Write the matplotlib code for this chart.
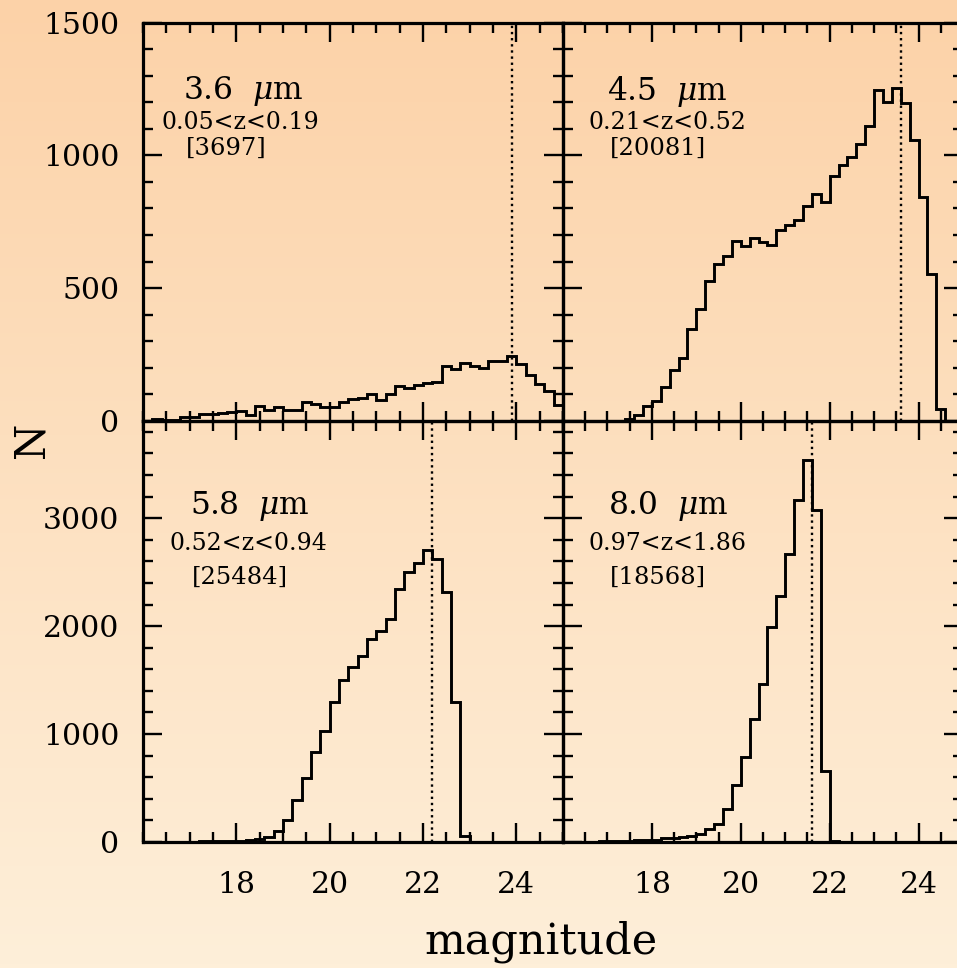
import matplotlib.pyplot as plt
from matplotlib.ticker import MultipleLocator
import numpy as np

# Output size in pixels (saved at 100 dpi)
W, H = 957, 968

plt.rcParams['font.family'] = 'DejaVu Serif'
plt.rcParams['mathtext.fontset'] = 'dejavuserif'

# 0.2 mag bins from 16 to 25, shared by all four histograms
BIN_WIDTH = 0.2
edges = np.round(np.arange(16.0, 25.0 + BIN_WIDTH / 2, BIN_WIDTH), 1)

# Counts per bin (bins start at 16.0, 16.2, ... 24.8)
counts_36 = [0, 6, 3, 3, 14, 14, 25, 25, 31, 34,
             37, 23, 58, 43, 54, 42, 42, 70, 63, 51,
             51, 73, 82, 88, 103, 79, 103, 132, 125, 137,
             142, 145, 207, 196, 220, 207, 201, 224, 226, 244,
             216, 175, 141, 114, 60]
counts_45 = [0, 0, 0, 0, 0, 0, 0, 7, 21, 55,
             74, 129, 191, 236, 345, 420, 528, 592, 622, 676,
             659, 688, 672, 664, 718, 738, 755, 811, 853, 826,
             921, 962, 995, 1041, 1109, 1246, 1202, 1252, 1196, 1059,
             842, 552, 44, 0, 0]
counts_58 = [0, 0, 0, 0, 0, 0, 5, 5, 8, 8,
             10, 20, 28, 46, 99, 201, 392, 594, 836, 1029,
             1298, 1503, 1617, 1726, 1880, 1958, 2066, 2345, 2503, 2581,
             2708, 2618, 2317, 1301, 53, 0, 0, 0, 0, 0,
             0, 0, 0, 0, 0]
counts_80 = [0, 0, 0, 4, 5, 6, 8, 12, 15, 16,
             18, 37, 40, 45, 53, 74, 124, 164, 304, 527,
             790, 1140, 1465, 1989, 2277, 2670, 3169, 3541, 3076, 660,
             10, 0, 0, 0, 0, 0, 0, 0, 0, 0,
             0, 0, 0, 0, 0]

bands = ['3.6', '4.5', '5.8', '8.0']
z_ranges = ['0.05<z<0.19', '0.21<z<0.52', '0.52<z<0.94', '0.97<z<1.86']
n_sources = ['[3697]', '[20081]', '[25484]', '[18568]']
mag_limits = [23.9, 23.6, 22.2, 21.6]
all_counts = [counts_36, counts_45, counts_58, counts_80]

mag_ticks = [18, 20, 22, 24]
top_ticks = [0, 500, 1000, 1500]
bottom_ticks = [0, 1000, 2000, 3000]

fig = plt.figure(figsize=(W / 100, H / 100), dpi=100)

# Peach gradient background behind everything
bg = fig.add_axes([0, 0, 1, 1], zorder=-10)
top_col = np.array([252, 210, 168]) / 255
bot_col = np.array([254, 239, 217]) / 255
t = np.linspace(0, 1, 256)[:, None, None]
bg.imshow(top_col * (1 - t) + bot_col * t, aspect='auto', extent=[0, 1, 0, 1])
bg.axis('off')


def px_axes(x0, y0, x1, y1):
    # axes placed by pixel box (left, top, right, bottom)
    return fig.add_axes([x0 / W, 1 - y1 / H, (x1 - x0) / W, (y1 - y0) / H])


# panel boxes in pixels; right column runs past the image edge like the original
boxes = [(143, 22.5, 563, 421), (563, 22.5, 963, 421),
         (143, 421, 563, 842), (563, 421, 963, 842)]

# label positions in axes fractions: (band, z range, count)
label_pos = [
    [(0.238, 0.828), (0.233, 0.750), (0.198, 0.684)],
    [(0.260, 0.828), (0.260, 0.750), (0.238, 0.684)],
    [(0.255, 0.797), (0.250, 0.709), (0.231, 0.629)],
    [(0.263, 0.797), (0.261, 0.709), (0.238, 0.629)],
]

for i, box in enumerate(boxes):
    ax = px_axes(*box)
    ax.set_facecolor('none')

    ax.stairs(all_counts[i], edges, color='k', lw=2.1, baseline=0)
    ax.axvline(mag_limits[i], color='k', ls=(0, (1, 1.6)), lw=1.7)

    ax.set_xlim(16, 25)
    ax.set_xticks(mag_ticks)
    ax.xaxis.set_minor_locator(MultipleLocator(0.5))
    if i < 2:
        ax.set_ylim(0, 1500)
        ax.set_yticks(top_ticks)
        ax.yaxis.set_minor_locator(MultipleLocator(100))
        ax.tick_params(axis='x', labelbottom=False)
    else:
        ax.set_ylim(0, 3900)
        ax.set_yticks(bottom_ticks)
        ax.yaxis.set_minor_locator(MultipleLocator(200))
    if i % 2 == 1:
        ax.tick_params(axis='y', labelleft=False)

    ax.tick_params(which='both', direction='in', top=True, right=True,
                   width=1.7, labelsize=21.5)
    ax.tick_params(which='major', length=14)
    ax.tick_params(which='minor', length=7)
    ax.tick_params(axis='x', pad=21)
    ax.tick_params(axis='y', pad=17)
    for sp in ax.spines.values():
        sp.set_linewidth(2.3)

    (bx, by), (zx, zy), (nx, ny) = label_pos[i]
    ax.text(bx, by, bands[i] + r'  $\mu$m', transform=ax.transAxes,
            ha='center', va='center', fontsize=22.5)
    ax.text(zx, zy, z_ranges[i], transform=ax.transAxes,
            ha='center', va='center', fontsize=17)
    ax.text(nx, ny, n_sources[i], transform=ax.transAxes,
            ha='center', va='center', fontsize=17.5)

fig.text(541 / W, 1 - 942 / H, 'magnitude', ha='center', va='center', fontsize=31)
fig.text(32 / W, 1 - 440 / H, 'N', ha='center', va='center', fontsize=30,
         rotation=90)

fig.savefig('out.png', dpi=100)
